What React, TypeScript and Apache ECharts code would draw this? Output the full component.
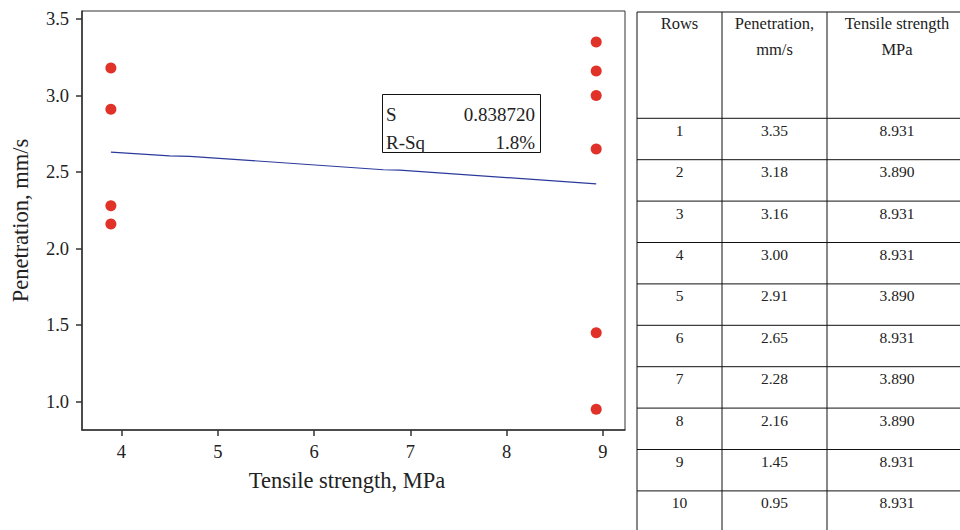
import React, { useEffect, useRef } from "react";
import * as echarts from "echarts";

// ---- data ----
const rowNumbers = [1, 2, 3, 4, 5, 6, 7, 8, 9, 10];
const penetration = [3.35, 3.18, 3.16, 3.0, 2.91, 2.65, 2.28, 2.16, 1.45, 0.95];
const tensileStrength = [8.931, 3.89, 8.931, 8.931, 3.89, 8.931, 3.89, 3.89, 8.931, 8.931];
const tensileLabels = ["8.931", "3.890", "8.931", "8.931", "3.890", "8.931", "3.890", "3.890", "8.931", "8.931"];
const penetrationLabels = ["3.35", "3.18", "3.16", "3.00", "2.91", "2.65", "2.28", "2.16", "1.45", "0.95"];
// fitted line as drawn in the picture
const fitX = [3.89, 4.5, 4.71, 6.72, 6.89, 8.931];
const fitY = [2.63, 2.605, 2.603, 2.515, 2.513, 2.423];
const xTicks = [4, 5, 6, 7, 8, 9];
const yTicks = [1.0, 1.5, 2.0, 2.5, 3.0, 3.5];
const statsLabels = ["S", "R-Sq"];
const statsValues = ["0.838720", "1.8%"];
const headerCols = [["Rows"], ["Penetration,", "mm/s"], ["Tensile strength", "MPa"]];

const SERIF = "Liberation Serif";
const INK = "#222";

export default function App() {
  const ref = useRef<HTMLDivElement>(null);

  useEffect(() => {
    document.body.style.margin = "0";
    if (!ref.current) return;
    const chart = echarts.init(ref.current, undefined, { renderer: "svg" });

    const gridLeft = 82;
    const gridTop = 11;
    const gridW = 543;
    const gridH = 419;

    // table geometry
    const colX = [637, 722, 827, 967];
    const tableTop = 12;
    const headerBottom = 118.3;
    const rowH = 41.4;

    const graphics: any[] = [];
    // stats box
    graphics.push({
      type: "rect",
      shape: { x: 382.5, y: 94.5, width: 158, height: 58 },
      style: { fill: "#fff", stroke: "#111", lineWidth: 1 },
      z: 10,
    });
    statsLabels.forEach((lab, i) => {
      graphics.push({
        type: "text",
        x: 386,
        y: 114 + i * 28,
        style: { text: lab, fontFamily: SERIF, fontSize: 19, fill: INK, verticalAlign: "middle", align: "left" },
        z: 11,
      });
      graphics.push({
        type: "text",
        x: 535,
        y: 114 + i * 28,
        style: { text: statsValues[i], fontFamily: SERIF, fontSize: 19, fill: INK, verticalAlign: "middle", align: "right" },
        z: 11,
      });
    });

    // table lines
    const nRows = rowNumbers.length;
    const tableBottom = headerBottom + rowH * nRows;
    graphics.push({
      type: "line",
      shape: { x1: colX[0], y1: tableTop, x2: colX[3], y2: tableTop },
      style: { stroke: "#111", lineWidth: 1 },
    });
    for (let i = 0; i <= nRows; i++) {
      const y = headerBottom + i * rowH;
      graphics.push({
        type: "line",
        shape: { x1: colX[0], y1: y, x2: colX[3], y2: y },
        style: { stroke: "#111", lineWidth: 1 },
      });
    }
    for (let c = 0; c < 3; c++) {
      graphics.push({
        type: "line",
        shape: { x1: colX[c], y1: tableTop, x2: colX[c], y2: tableBottom },
        style: { stroke: "#111", lineWidth: 1 },
      });
    }
    // header text
    headerCols.forEach((lines, c) => {
      const cx = (colX[c] + colX[c + 1]) / 2;
      lines.forEach((t, j) => {
        graphics.push({
          type: "text",
          x: cx,
          y: 23 + j * 26,
          style: { text: t, fontFamily: SERIF, fontSize: 16.5, fill: INK, align: "center", verticalAlign: "middle" },
        });
      });
    });
    // body text
    for (let i = 0; i < nRows; i++) {
      const cy = headerBottom + i * rowH + 12;
      const cells = [String(rowNumbers[i]), penetrationLabels[i], tensileLabels[i]];
      cells.forEach((t, c) => {
        graphics.push({
          type: "text",
          x: (colX[c] + colX[c + 1]) / 2,
          y: cy,
          style: { text: t, fontFamily: SERIF, fontSize: 15.5, fill: INK, align: "center", verticalAlign: "middle" },
        });
      });
    }

    const points = tensileStrength.map((x, i) => [x, penetration[i]]);
    const fitLine = fitX.map((x, i) => [x, fitY[i]]);

    chart.setOption({
      animation: false,
      backgroundColor: "#fff",
      textStyle: { fontFamily: SERIF, fontSize: 18, color: INK },
      grid: {
        left: gridLeft,
        top: gridTop,
        width: gridW,
        height: gridH,
        show: true,
        borderColor: "#333",
        borderWidth: 1,
        backgroundColor: "transparent",
        containLabel: false,
        outerBoundsMode: "none",
      },
      xAxis: {
        type: "value",
        min: 3.59,
        max: 9.23,
        name: "Tensile strength, MPa",
        nameLocation: "middle",
        nameGap: 39,
        nameMoveOverlap: false,
        nameTextStyle: { fontFamily: SERIF, fontSize: 22.5, color: INK, padding: [0, 13, 0, 0] },
        axisLine: { show: true, lineStyle: { color: "#333", width: 1.5 } },
        axisTick: { show: true, length: 6, customValues: xTicks, lineStyle: { color: "#333", width: 1.5 } },
        axisLabel: {
          customValues: xTicks,
          margin: 12,
          fontFamily: SERIF,
          fontSize: 18.5,
          color: INK,
        },
        splitLine: { show: false },
      },
      yAxis: {
        type: "value",
        min: 0.815,
        max: 3.552,
        name: "Penetration, mm/s",
        nameLocation: "middle",
        nameGap: 50,
        nameMoveOverlap: false,
        nameTextStyle: { fontFamily: SERIF, fontSize: 22.5, color: INK },
        axisLine: { show: true, lineStyle: { color: "#333", width: 1.5 } },
        axisTick: { show: true, length: 6, customValues: yTicks, lineStyle: { color: "#333", width: 1.5 } },
        axisLabel: {
          customValues: yTicks,
          margin: 13,
          fontFamily: SERIF,
          fontSize: 18.5,
          color: INK,
          formatter: (v: number) => v.toFixed(1),
        },
        splitLine: { show: false },
      },
      series: [
        {
          type: "line",
          data: fitLine,
          symbol: "none",
          lineStyle: { color: "#2b3a9c", width: 1.2 },
          z: 2,
        },
        {
          type: "scatter",
          data: points,
          symbol: "circle",
          symbolSize: 11,
          itemStyle: { color: "#e03228", opacity: 1 },
          z: 3,
        },
      ],
      graphic: graphics,
    });

    return () => chart.dispose();
  }, []);

  return <div ref={ref} style={{ width: 960, height: 530 }} />;
}
